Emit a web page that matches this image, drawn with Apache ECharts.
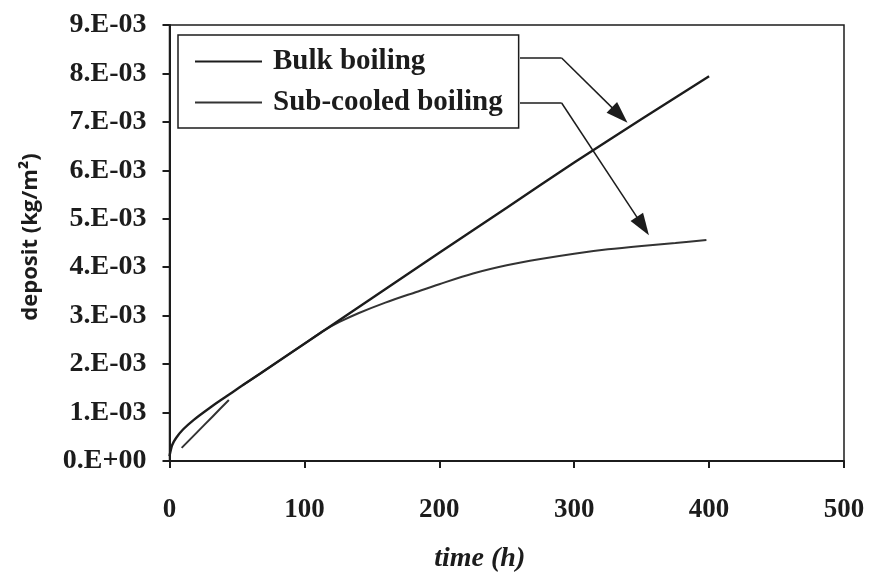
<!DOCTYPE html>
<html>
<head>
<meta charset="utf-8">
<script src="https://cdn.jsdelivr.net/npm/echarts@6/dist/echarts.min.js"></script>
<style>
html,body{margin:0;padding:0;background:#fff;}
#chart{width:869px;height:578px;}
</style>
</head>
<body>
<div id="chart"></div>
<script>
// ---- data (time in h, deposit in kg/m^2) ----
const seriesNames = ['Bulk boiling', 'Sub-cooled boiling'];
const bulkTime    = [0, 2, 5, 10, 18, 30, 42, 52, 67, 100, 150, 200, 250, 300, 350, 400];
const bulkDeposit = [0.10e-3, 0.33e-3, 0.48e-3, 0.65e-3, 0.85e-3, 1.10e-3, 1.33e-3, 1.52e-3, 1.80e-3, 2.42e-3, 3.36e-3, 4.30e-3, 5.23e-3, 6.16e-3, 7.06e-3, 7.94e-3];
const subTime     = [9, 20, 32, 44, 48, 54, 67, 100, 115, 126, 140, 160, 183, 200, 225, 250, 275, 300, 325, 350, 375, 398];
const subDeposit  = [0.27e-3, 0.58e-3, 0.92e-3, 1.26e-3, null, 1.56e-3, 1.80e-3, 2.42e-3, 2.70e-3, 2.87e-3, 3.05e-3, 3.27e-3, 3.49e-3, 3.65e-3, 3.87e-3, 4.04e-3, 4.17e-3, 4.28e-3, 4.37e-3, 4.44e-3, 4.50e-3, 4.56e-3];
const xTickLabels = ['0', '100', '200', '300', '400', '500'];
const yTickLabels = ['0.E+00', '1.E-03', '2.E-03', '3.E-03', '4.E-03', '5.E-03', '6.E-03', '7.E-03', '8.E-03', '9.E-03'];

const pair = (xs, ys) => xs.map((x, i) => [x, ys[i] === null ? '-' : ys[i]]);

const serif = '"Liberation Serif", "DejaVu Serif", serif';
const ink = '#1c1c1c';
const arrowHead = 'path://M5,0 L10,14 L0,14 Z';

function leader(points) {
  const segs = [];
  for (let i = 0; i < points.length - 1; i++) {
    const last = i === points.length - 2;
    segs.push([
      { coord: points[i], symbol: 'none' },
      { coord: points[i + 1], symbol: last ? arrowHead : 'none', symbolSize: [15, 22] }
    ]);
  }
  return segs;
}

const chart = echarts.init(document.getElementById('chart'), null, { renderer: 'canvas' });
chart.setOption({
  animation: false,
  backgroundColor: '#ffffff',
  grid: {
    left: 169.5, right: 25, top: 25, bottom: 115.5,
    show: true, borderColor: ink, borderWidth: 1.5, backgroundColor: 'transparent'
  },
  legend: {
    orient: 'vertical',
    left: 178, top: 35,
    data: seriesNames,
    icon: 'rect',
    itemWidth: 67, itemHeight: 2, itemGap: 12,
    padding: [12, 16, 11, 17],
    borderColor: ink, borderWidth: 1.5,
    backgroundColor: '#fff',
    selectedMode: false,
    textStyle: { fontFamily: serif, fontWeight: 'bold', fontSize: 29, color: ink, lineHeight: 28, padding: [0, 0, 0, 6] }
  },
  xAxis: {
    type: 'value', min: 0, max: 500, interval: 100,
    name: 'time (h)', nameLocation: 'middle', nameGap: 84,
    nameTextStyle: { fontFamily: serif, fontWeight: 'bold', fontStyle: 'italic', fontSize: 28, color: ink, padding: [0, 54, 0, 0] },
    axisLine: { show: true, lineStyle: { color: ink, width: 2 } },
    axisTick: { show: true, inside: false, length: 7, lineStyle: { color: ink, width: 2 } },
    axisLabel: {
      margin: 36, fontFamily: serif, fontWeight: 'bold', fontSize: 27, color: ink,
      formatter: v => xTickLabels[Math.round(v / 100)]
    },
    splitLine: { show: false }
  },
  yAxis: {
    type: 'value', min: 0, max: 0.009, interval: 0.001,
    name: 'deposit (kg/m²)', nameLocation: 'middle', nameGap: 128, nameRotate: 90,
    nameTextStyle: { fontFamily: '"Open Sans", "Noto Sans", sans-serif', fontWeight: 'bold', fontSize: 22, color: ink, padding: [0, 0, 0, 12] },
    axisLine: { show: true, lineStyle: { color: ink, width: 2 } },
    axisTick: { show: true, inside: false, length: 7, lineStyle: { color: ink, width: 2 } },
    axisLabel: {
      margin: 23, fontFamily: serif, fontWeight: 'bold', fontSize: 28, color: ink,
      formatter: v => yTickLabels[Math.round(v / 0.001)]
    },
    splitLine: { show: false }
  },
  series: [
    {
      name: seriesNames[0], type: 'line', smooth: 0.3, symbol: 'none',
      data: pair(bulkTime, bulkDeposit),
      lineStyle: { color: ink, width: 2.4 }, itemStyle: { color: ink },
      z: 3,
      markLine: {
        silent: true, animation: false, label: { show: false },
        lineStyle: { color: ink, width: 1.5, type: 'solid' },
        symbolSize: [15, 22],
        data: leader([[259.8, 8.32e-3], [290.7, 8.32e-3], [333.7, 7.14e-3]])
      }
    },
    {
      name: seriesNames[1], type: 'line', smooth: 0.3, symbol: 'none', connectNulls: false,
      data: pair(subTime, subDeposit),
      lineStyle: { color: '#333', width: 2 }, itemStyle: { color: '#333' },
      z: 2,
      markLine: {
        silent: true, animation: false, label: { show: false },
        lineStyle: { color: ink, width: 1.5, type: 'solid' },
        symbolSize: [15, 22],
        data: leader([[259.8, 7.39e-3], [290.7, 7.39e-3], [350.9, 4.85e-3]])
      }
    }
  ]
});
</script>
</body>
</html>
